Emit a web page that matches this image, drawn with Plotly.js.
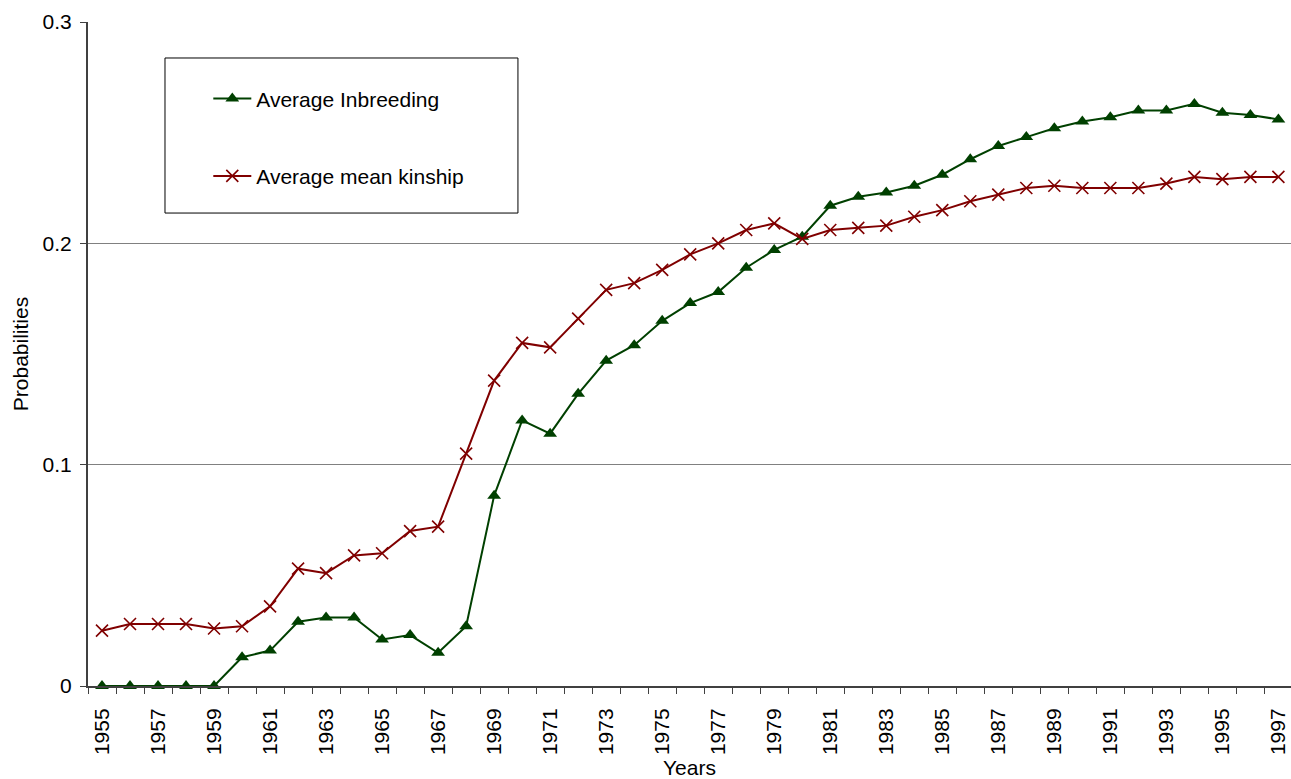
<!DOCTYPE html>
<html>
<head>
<meta charset="utf-8">
<script src="https://cdn.plot.ly/plotly-3.0.1.min.js"></script>
<style>html,body{margin:0;padding:0;background:#fff;}#chart{width:1291px;height:779px;}</style>
</head>
<body>
<div id="chart"></div>
<script>
const years = [1955,1956,1957,1958,1959,1960,1961,1962,1963,1964,1965,1966,1967,1968,1969,1970,1971,1972,1973,1974,1975,1976,1977,1978,1979,1980,1981,1982,1983,1984,1985,1986,1987,1988,1989,1990,1991,1992,1993,1994,1995,1996,1997];
const inbreeding = [0,0,0,0,0,0.013,0.016,0.029,0.031,0.031,0.021,0.023,0.015,0.027,0.086,0.120,0.114,0.132,0.147,0.154,0.165,0.173,0.178,0.189,0.197,0.203,0.217,0.221,0.223,0.226,0.231,0.238,0.244,0.248,0.252,0.255,0.257,0.260,0.260,0.263,0.259,0.258,0.256];
const kinship = [0.025,0.028,0.028,0.028,0.026,0.027,0.036,0.053,0.051,0.059,0.060,0.070,0.072,0.105,0.138,0.155,0.153,0.166,0.179,0.182,0.188,0.195,0.200,0.206,0.209,0.202,0.206,0.207,0.208,0.212,0.215,0.219,0.222,0.225,0.226,0.225,0.225,0.225,0.227,0.230,0.229,0.230,0.230];
const xTickYears = [1955,1957,1959,1961,1963,1965,1967,1969,1971,1973,1975,1977,1979,1981,1983,1985,1987,1989,1991,1993,1995,1997];
const xTickLabels = xTickYears.map(String);
const yTickVals = [0,0.1,0.2,0.3];
const yTickLabels = ['0','0.1','0.2','0.3'];

const green = '#004000';
const red = '#800000';

const traces = [
  {x: years, y: inbreeding, name: 'Average Inbreeding', type: 'scatter', mode: 'lines+markers', cliponaxis: false,
   line: {color: green, width: 2}, marker: {symbol: 'triangle-up', size: 12, color: green},
   legendgroup: 'a'},
  {x: years, y: kinship, name: 'Average mean kinship', type: 'scatter', mode: 'lines+markers', cliponaxis: false,
   line: {color: red, width: 2}, marker: {symbol: 'x-thin-open', size: 12, color: red, line: {color: red, width: 1.6}},
   legendgroup: 'b'}
];

const layout = {
  width: 1291, height: 779,
  margin: {l: 88, r: 0, t: 22, b: 93},
  paper_bgcolor: '#fff', plot_bgcolor: '#fff',
  font: {family: 'Liberation Sans, Arial, sans-serif', size: 21, color: '#000'},
  showlegend: true,
  legend: {x: 0.1, y: 0.915, xanchor: 'left', yanchor: 'top', bgcolor: 'rgba(0,0,0,0)', borderwidth: 0,
           tracegroupgap: 47, itemwidth: 38, font: {size: 21}},
  xaxis: {
    range: [1954.5, 1997.45], tickmode: 'array', tickvals: xTickYears, ticktext: xTickLabels,
    tickangle: -90, ticks: 'outside', ticklen: 0, showgrid: false, zeroline: false, ticklabeloverflow: 'allow',
    showline: true, linecolor: '#404040', linewidth: 2, ticklabelstandoff: 12,
    minor: {tick0: 1954.5, dtick: 1, ticks: 'outside', ticklen: 6, tickcolor: '#404040', tickwidth: 1, showgrid: false},
    title: {text: 'Years', standoff: 8, font: {size: 21}}
  },
  yaxis: {
    range: [0, 0.3], tickmode: 'array', tickvals: yTickVals, ticktext: yTickLabels,
    ticks: 'outside', ticklen: 6, tickcolor: '#404040', showgrid: true, gridcolor: '#808080', gridwidth: 1,
    zeroline: false, showline: true, linecolor: '#404040', linewidth: 2, ticklabelstandoff: 4,
    title: {text: 'Probabilities', standoff: 8, font: {size: 21}}
  },
  shapes: [
    {type: 'rect', xref: 'paper', yref: 'paper', x0: 0.064, x1: 0.3574, y0: 0.7123, y1: 0.9458,
     line: {color: '#000', width: 1}, fillcolor: 'rgba(0,0,0,0)', layer: 'above'}
  ]
};

Plotly.newPlot('chart', traces, layout, {staticPlot: true, displayModeBar: false});
</script>
</body>
</html>
